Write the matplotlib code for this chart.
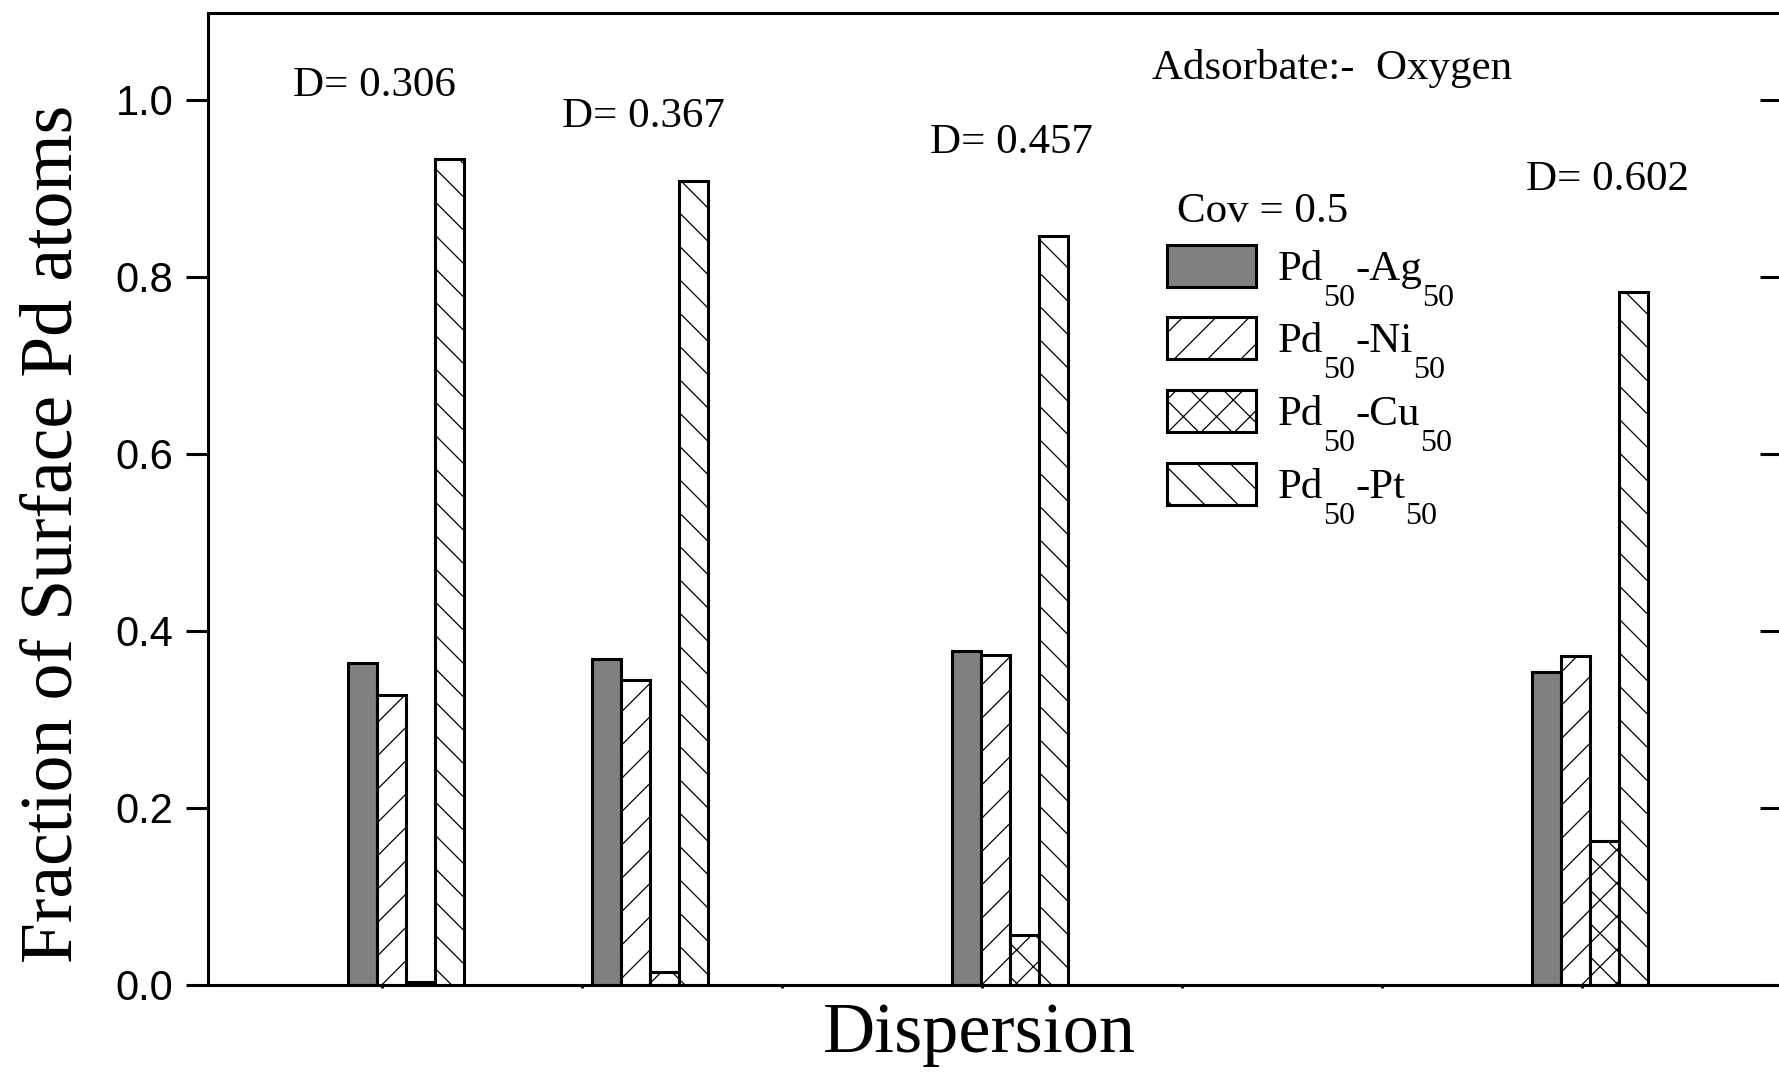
import matplotlib.pyplot as plt
import numpy as np
from matplotlib.patches import Rectangle

plt.rcParams['hatch.linewidth'] = 0.9

# dispersion of each cluster and the fraction of surface Pd atoms per alloy
dispersion = [0.306, 0.367, 0.457, 0.602]
d_labels = ['D= 0.306', 'D= 0.367', 'D= 0.457', 'D= 0.602']
partners = ['Ag', 'Ni', 'Cu', 'Pt']
pd_ag = [0.364, 0.368, 0.377, 0.354]
pd_ni = [0.328, 0.345, 0.373, 0.372]
pd_cu = [0.003, 0.015, 0.056, 0.163]
pd_pt = [0.933, 0.908, 0.846, 0.783]
y_ticks = [0.0, 0.2, 0.4, 0.6, 0.8, 1.0]

serif = 'Liberation Serif'
W, H = 1779, 1073
fig = plt.figure(figsize=(W / 100, H / 100), dpi=100)
ax = fig.add_axes([208 / W, 88 / H, (1782 - 208) / W, (985 - 13) / H])

def fx(px):
    return px / W

def fy(py):
    return 1 - py / H

width = 0.0073
styles = [('#808080', ''), ('white', '/'), ('white', 'x'), ('white', '\\')]
x = np.array(dispersion)
for i, (vals, (fc, hatch)) in enumerate(zip([pd_ag, pd_ni, pd_cu, pd_pt], styles)):
    ax.bar(x + (i - 1.5) * width, vals, width, color=fc, hatch=hatch,
           edgecolor='black', linewidth=2.2)

ax.set_xlim(0.2565, 0.65)
ax.set_ylim(0, 1.098)
ax.set_xticks(np.arange(0.30, 0.651, 0.05))
ax.set_xticklabels([])
ax.set_yticks(y_ticks)
ax.set_yticklabels(['%.1f' % v for v in y_ticks], family='Liberation Sans', fontsize=30)

for s in ax.spines.values():
    s.set_linewidth(2.2)
ax.tick_params(axis='y', which='major', direction='out', length=16, width=2.2, pad=9, right=False)
ax.tick_params(axis='x', which='major', direction='out', length=2, width=2)

# inward ticks on the right side
ax_r = ax.twinx()
ax_r.set_ylim(ax.get_ylim())
ax_r.set_yticks(y_ticks)
ax_r.set_yticklabels([])
ax_r.tick_params(axis='y', direction='in', length=16, width=2.2)
for s in ax_r.spines.values():
    s.set_visible(False)

ax.set_ylabel('Fraction of Surface Pd atoms', family=serif, fontsize=53, va='center')
ax.yaxis.set_label_coords(-0.098, 0.464)
ax.set_xlabel('Dispersion', family=serif, fontsize=52, va='center')
ax.xaxis.set_label_coords(0.49, -0.051)

label_pos = [(0.2778, 1.016), (0.345, 0.981), (0.437, 0.951), (0.586, 0.910)]
for (lx, ly), txt in zip(label_pos, d_labels):
    ax.text(lx, ly, txt, family=serif, fontsize=31, va='center', ha='left')
ax.text(0.4925, 1.035, 'Adsorbate:-  Oxygen', family=serif, fontsize=31, va='center', ha='left')

# legend drawn by hand so the subscripts sit low like in the original plot
fig.text(fx(1177), fy(222), 'Cov = 0.5', family=serif, fontsize=31, va='baseline', ha='left')
row_centers = [266, 338, 411, 484]
for (fc, hatch), name, yc in zip(styles, partners, row_centers):
    fig.add_artist(Rectangle((fx(1167), fy(yc + 21)), (1256 - 1167) / W, 42 / H,
                             transform=fig.transFigure, facecolor=fc, hatch=hatch,
                             edgecolor='black', linewidth=2.2))
    t1 = fig.text(fx(1278), fy(yc + 14), 'Pd', family=serif, fontsize=31,
                  va='baseline', ha='left')
    t2 = ax.annotate('50', xy=(1, 0), xycoords=t1, xytext=(0, -12.5),
                     textcoords='offset points', family=serif, fontsize=23,
                     va='baseline', ha='left')
    t3 = ax.annotate('-' + name, xy=(1, 0), xycoords=(t2, t1), family=serif,
                     fontsize=31, va='bottom', ha='left')
    ax.annotate('50', xy=(1, 0), xycoords=(t3, t2), family=serif, fontsize=23,
                va='bottom', ha='left')

fig.savefig('out.png', dpi=100)
